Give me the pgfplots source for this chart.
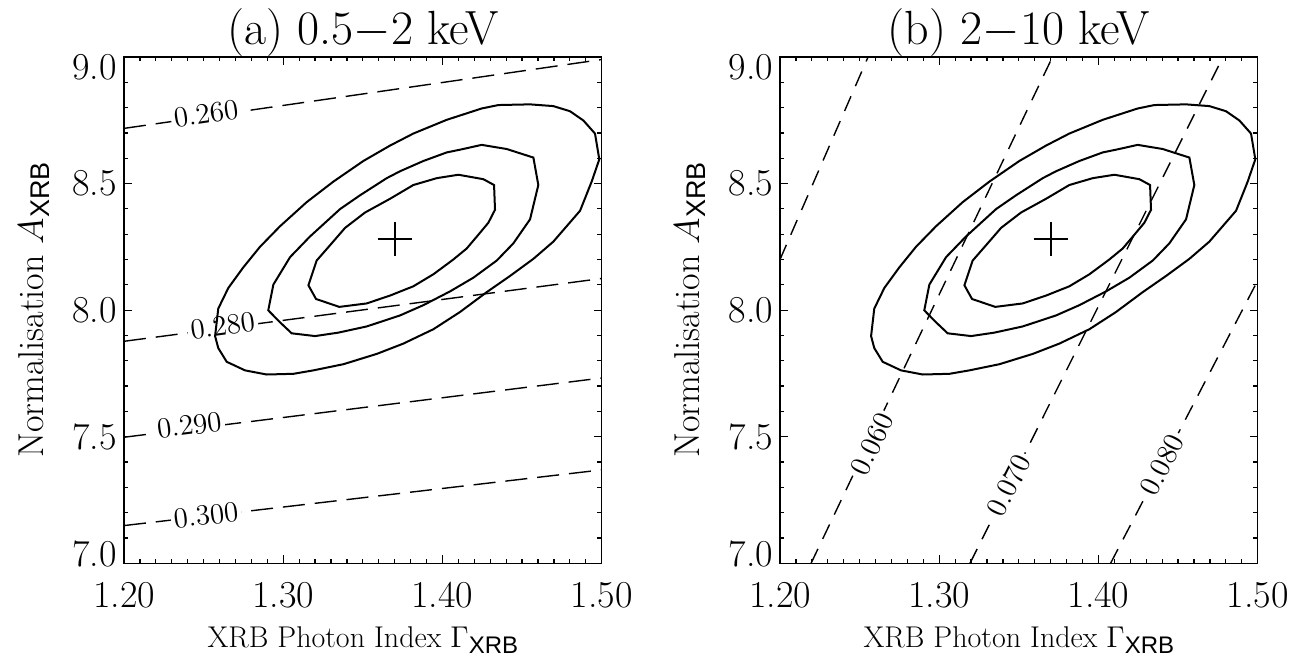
\RequirePackage{fix-cm}
\documentclass[border=0pt]{standalone}
\usepackage{fontspec}
\setsansfont{Liberation Sans}
\usepackage{pgfplots}
\usepackage{pgfplotstable}
\pgfplotsset{compat=1.18}

\pgfplotstableread{
x y
1.4550 8.8129
1.4351 8.8102
1.4246 8.7966
1.4027 8.7519
1.3817 8.6976
1.3671 8.6502
1.3503 8.5892
1.3315 8.5078
1.3147 8.4265
1.2980 8.3315
1.2854 8.2502
1.2749 8.1688
1.2655 8.0875
1.2592 8.0061
1.2572 7.8976
1.2592 7.8502
1.2645 7.7960
1.2760 7.7621
1.2896 7.7458
1.3064 7.7485
1.3189 7.7621
1.3378 7.7865
1.3587 7.8271
1.3754 7.8678
1.3943 7.9247
1.4110 7.9926
1.4278 8.0712
1.4424 8.1349
1.4571 8.2027
1.4696 8.2705
1.4864 8.3926
1.4937 8.5078
1.4985 8.5959
1.4958 8.6976
1.4885 8.7492
1.4801 8.7858
1.4696 8.8061
1.4550 8.8129
}\outertab

\pgfplotstableread{
x y
1.4246 8.6529
1.4121 8.6353
1.4027 8.6231
1.3880 8.5892
1.3733 8.5485
1.3650 8.5214
1.3482 8.4536
1.3357 8.3993
1.3168 8.2909
1.3043 8.2095
1.2938 8.1010
1.2906 7.9993
1.2980 7.9519
1.3053 7.9085
1.3200 7.8976
1.3346 7.9112
1.3524 7.9356
1.3733 7.9790
1.3880 8.0197
1.4047 8.0739
1.4194 8.1282
1.4341 8.1960
1.4445 8.2637
1.4550 8.3587
1.4602 8.4943
1.4571 8.6027
1.4403 8.6366
1.4246 8.6529
}\middletab

\pgfplotstableread{
x y
1.4100 8.5349
1.3964 8.5214
1.3817 8.4943
1.3671 8.4400
1.3514 8.3858
1.3388 8.3248
1.3304 8.2637
1.3210 8.1960
1.3158 8.0983
1.3206 8.0441
1.3352 8.0129
1.3524 8.0265
1.3671 8.0577
1.3817 8.0942
1.3943 8.1417
1.4068 8.2000
1.4152 8.2434
1.4225 8.2976
1.4288 8.3451
1.4330 8.3966
1.4324 8.4943
1.4257 8.5173
1.4100 8.5349
}\innertab

\tikzset{clab/.style={fill=white, inner sep=1.5pt, font=\fontsize{14.5}{16}\selectfont\addfontfeatures{FakeStretch=1.05}}}
\newcommand{\xsub}{\raisebox{-0.45ex}{\fontsize{12}{13}\sffamily\selectfont XRB}}
\newcommand{\ysub}{\raisebox{-0.45ex}{\fontsize{13.5}{15}\sffamily\selectfont XRB}}
\newcommand{\sh}[2]{\raisebox{#1}[\height][\depth]{#2}}

\pgfplotsset{
  myaxis/.style={
    scale only axis, width=238.85pt, height=253.15pt,
    xmin=1.2, xmax=1.5, ymin=7, ymax=9,
    xtick={1.2,1.3,1.4,1.5}, ytick={7,7.5,8,8.5,9},
    xticklabels={1.20,1.30,1.40,1.50},
    yticklabels={\sh{4.5pt}{7.0},7.5,8.0,8.5,\sh{-5pt}{9.0}},
    minor x tick num=9, minor y tick num=4,
    tick align=inside, tick pos=both,
    major tick length=4pt, minor tick length=2.2pt,
    every tick/.style={black, line width=0.6pt},
    axis line style={line width=0.75pt},
    x tick label style={font=\fontsize{19}{22}\selectfont\addfontfeatures{FakeStretch=1.07}, yshift=-6pt},
    y tick label style={font=\fontsize{19}{22}\selectfont\addfontfeatures{FakeStretch=1.07}},
  },
  cont/.style={black, line width=1pt, mark=none},
  dash/.style={black, line width=0.7pt, mark=none},
}

\begin{document}
\begin{tikzpicture}
\useasboundingbox (0,0) rectangle (652.5pt,332.5pt);

% ---------------- panel (a)
\begin{axis}[myaxis, name=a, at={(62pt,50.85pt)}, anchor=south west]
\addplot[dash, dash pattern=on 11pt off 5pt] coordinates {(1.2,8.718) (1.5,8.990)};
\addplot[dash, dash pattern=on 11pt off 5pt] coordinates {(1.2,7.877) (1.5,8.125)};
\addplot[dash, dash pattern=on 11pt off 5pt] coordinates {(1.2,7.498) (1.5,7.732)};
\addplot[dash, dash pattern=on 11pt off 5pt] coordinates {(1.2,7.149) (1.5,7.369)};
\node[clab, rotate=8.2] at (axis cs:1.2515,8.776) {0.260};
\node[clab, rotate=7.5] at (axis cs:1.262,7.938) {0.280};
\node[clab, rotate=7.1] at (axis cs:1.241,7.545) {0.290};
\node[clab, rotate=6.7] at (axis cs:1.2515,7.189) {0.300};
\addplot[cont] table {\outertab};
\addplot[cont] table {\middletab};
\addplot[cont] table {\innertab};
\addplot[black, only marks, mark=+, mark size=8.5pt, mark options={line width=1pt}] coordinates {(1.37,8.28)};
\end{axis}

% ---------------- panel (b)
\begin{axis}[myaxis, name=b, at={(390pt,50.85pt)}, anchor=south west]
\addplot[dash, dash pattern=on 8pt off 5.5pt] coordinates {(1.2,8.20) (1.2553,9.0)};
\addplot[dash, dash pattern=on 8pt off 5.5pt] coordinates {(1.2195,7.0) (1.3711,9.0)};
\addplot[dash, dash pattern=on 8pt off 5.5pt] coordinates {(1.3193,7.0) (1.4782,9.0)};
\addplot[dash, dash pattern=on 8pt off 5.5pt] coordinates {(1.4076,7.0) (1.5,8.117)};
\node[clab, rotate=64.6] at (axis cs:1.2578,7.470) {0.060};
\node[clab, rotate=63.5] at (axis cs:1.3437,7.308) {0.070};
\node[clab, rotate=62.6] at (axis cs:1.4401,7.389) {0.080};
\addplot[cont] table {\outertab};
\addplot[cont] table {\middletab};
\addplot[cont] table {\innertab};
\addplot[black, only marks, mark=+, mark size=8.5pt, mark options={line width=1pt}] coordinates {(1.37,8.28)};
\end{axis}

% titles and labels
\foreach \ax/\t in {a/{(a) 0.5$-$2 keV}, b/{(b) 2$-$10 keV}} {
  \node[anchor=base, inner sep=0pt, font=\fontsize{24}{28}\selectfont\addfontfeatures{FakeStretch=1.1}] at ([yshift=6pt]\ax.north) {\t};
  \node[anchor=base, inner sep=0pt, font=\fontsize{15}{17}\selectfont\addfontfeatures{FakeStretch=1.05}] at ([yshift=-42pt]\ax.south) {XRB Photon Index $\Gamma$\xsub};
  \node[anchor=base, inner sep=0pt, rotate=90, font=\fontsize{18}{21}\selectfont] at ([xshift=-40.5pt]\ax.west) {Normalisation $A$\ysub};
}
\end{tikzpicture}
\end{document}
